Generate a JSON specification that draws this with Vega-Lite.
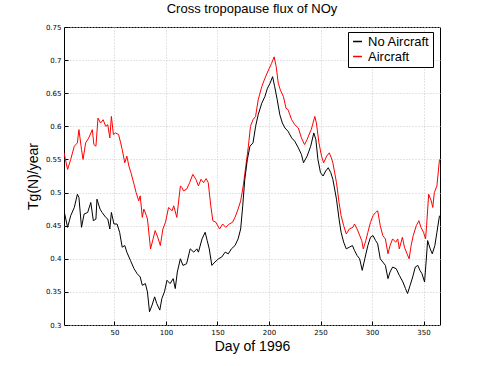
{
  "$schema": "https://vega.github.io/schema/vega-lite/v6.json",
  "autosize": {"type": "none"},
  "width": 376,
  "height": 298,
  "padding": {"left": 64, "top": 27, "right": 47, "bottom": 41},
  "background": "white",
  "title": {"text": "Cross tropopause flux of NOy", "fontSize": 13, "fontWeight": "normal", "font": "Liberation Sans", "color": "black", "offset": 7, "anchor": "middle"},
  "config": {
    "view": {"stroke": "black", "strokeWidth": 1},
    "axis": {"labelFont": "DejaVu Sans", "labelFontSize": 7, "labelColor": "black", "titleFont": "Liberation Sans", "titleFontSize": 14, "titleFontWeight": "normal", "titleColor": "black", "gridColor": "#c8c8c8", "gridDash": [1, 2], "gridWidth": 1, "domain": false, "tickColor": "black", "tickSize": -4, "labelPadding": 7}
  },
  "data": {"values": [
    {"d":1,"v":0.56,"s":"Aircraft"},{"d":4.5,"v":0.535,"s":"Aircraft"},{"d":7.5,"v":0.55,"s":"Aircraft"},{"d":11,"v":0.57,"s":"Aircraft"},{"d":14,"v":0.575,"s":"Aircraft"},{"d":15.5,"v":0.595,"s":"Aircraft"},{"d":18,"v":0.565,"s":"Aircraft"},{"d":19.5,"v":0.55,"s":"Aircraft"},{"d":22,"v":0.575,"s":"Aircraft"},{"d":25,"v":0.5825,"s":"Aircraft"},{"d":28.5,"v":0.595,"s":"Aircraft"},{"d":30,"v":0.5725,"s":"Aircraft"},{"d":32,"v":0.57,"s":"Aircraft"},{"d":34,"v":0.6125,"s":"Aircraft"},{"d":36.5,"v":0.605,"s":"Aircraft"},{"d":39,"v":0.61,"s":"Aircraft"},{"d":41.5,"v":0.6,"s":"Aircraft"},{"d":43.5,"v":0.6025,"s":"Aircraft"},{"d":45.5,"v":0.5825,"s":"Aircraft"},{"d":47,"v":0.615,"s":"Aircraft"},{"d":49,"v":0.5875,"s":"Aircraft"},{"d":51,"v":0.59,"s":"Aircraft"},{"d":54,"v":0.5875,"s":"Aircraft"},{"d":56,"v":0.575,"s":"Aircraft"},{"d":57.5,"v":0.565,"s":"Aircraft"},{"d":60,"v":0.545,"s":"Aircraft"},{"d":62,"v":0.555,"s":"Aircraft"},{"d":64,"v":0.54,"s":"Aircraft"},{"d":66,"v":0.53,"s":"Aircraft"},{"d":69,"v":0.5125,"s":"Aircraft"},{"d":71,"v":0.5,"s":"Aircraft"},{"d":73.5,"v":0.4875,"s":"Aircraft"},{"d":75,"v":0.495,"s":"Aircraft"},{"d":77,"v":0.4625,"s":"Aircraft"},{"d":78.5,"v":0.475,"s":"Aircraft"},{"d":81,"v":0.465,"s":"Aircraft"},{"d":82,"v":0.46,"s":"Aircraft"},{"d":85,"v":0.415,"s":"Aircraft"},{"d":87.5,"v":0.43,"s":"Aircraft"},{"d":89.5,"v":0.4425,"s":"Aircraft"},{"d":92,"v":0.4325,"s":"Aircraft"},{"d":94.5,"v":0.42,"s":"Aircraft"},{"d":97,"v":0.445,"s":"Aircraft"},{"d":99.5,"v":0.455,"s":"Aircraft"},{"d":102.5,"v":0.4775,"s":"Aircraft"},{"d":106,"v":0.4725,"s":"Aircraft"},{"d":107.5,"v":0.48,"s":"Aircraft"},{"d":110.5,"v":0.4625,"s":"Aircraft"},{"d":114,"v":0.51,"s":"Aircraft"},{"d":115.5,"v":0.5075,"s":"Aircraft"},{"d":117,"v":0.5025,"s":"Aircraft"},{"d":120,"v":0.505,"s":"Aircraft"},{"d":123,"v":0.515,"s":"Aircraft"},{"d":126,"v":0.5275,"s":"Aircraft"},{"d":129,"v":0.52,"s":"Aircraft"},{"d":131.5,"v":0.51,"s":"Aircraft"},{"d":134,"v":0.52,"s":"Aircraft"},{"d":136.5,"v":0.515,"s":"Aircraft"},{"d":139,"v":0.521,"s":"Aircraft"},{"d":141,"v":0.515,"s":"Aircraft"},{"d":143.5,"v":0.48,"s":"Aircraft"},{"d":145.5,"v":0.4575,"s":"Aircraft"},{"d":148.5,"v":0.455,"s":"Aircraft"},{"d":152,"v":0.445,"s":"Aircraft"},{"d":155,"v":0.4525,"s":"Aircraft"},{"d":158,"v":0.4475,"s":"Aircraft"},{"d":161.5,"v":0.4525,"s":"Aircraft"},{"d":164.5,"v":0.455,"s":"Aircraft"},{"d":167,"v":0.4625,"s":"Aircraft"},{"d":170,"v":0.475,"s":"Aircraft"},{"d":172.5,"v":0.4875,"s":"Aircraft"},{"d":175,"v":0.51,"s":"Aircraft"},{"d":177.5,"v":0.54,"s":"Aircraft"},{"d":180,"v":0.57,"s":"Aircraft"},{"d":182,"v":0.6,"s":"Aircraft"},{"d":184.5,"v":0.61,"s":"Aircraft"},{"d":187,"v":0.615,"s":"Aircraft"},{"d":189.5,"v":0.64,"s":"Aircraft"},{"d":193,"v":0.66,"s":"Aircraft"},{"d":196,"v":0.6725,"s":"Aircraft"},{"d":199.5,"v":0.685,"s":"Aircraft"},{"d":202.5,"v":0.695,"s":"Aircraft"},{"d":205,"v":0.705,"s":"Aircraft"},{"d":207,"v":0.69,"s":"Aircraft"},{"d":209,"v":0.665,"s":"Aircraft"},{"d":211,"v":0.655,"s":"Aircraft"},{"d":214,"v":0.645,"s":"Aircraft"},{"d":216.5,"v":0.6275,"s":"Aircraft"},{"d":218.5,"v":0.625,"s":"Aircraft"},{"d":222,"v":0.61,"s":"Aircraft"},{"d":225,"v":0.6025,"s":"Aircraft"},{"d":228.5,"v":0.5975,"s":"Aircraft"},{"d":231.5,"v":0.5825,"s":"Aircraft"},{"d":234.5,"v":0.5725,"s":"Aircraft"},{"d":237,"v":0.58,"s":"Aircraft"},{"d":239.5,"v":0.59,"s":"Aircraft"},{"d":241,"v":0.595,"s":"Aircraft"},{"d":244.5,"v":0.615,"s":"Aircraft"},{"d":246,"v":0.605,"s":"Aircraft"},{"d":248.5,"v":0.575,"s":"Aircraft"},{"d":251,"v":0.555,"s":"Aircraft"},{"d":253,"v":0.545,"s":"Aircraft"},{"d":256,"v":0.555,"s":"Aircraft"},{"d":258.5,"v":0.56,"s":"Aircraft"},{"d":260.5,"v":0.5525,"s":"Aircraft"},{"d":262,"v":0.545,"s":"Aircraft"},{"d":265.5,"v":0.515,"s":"Aircraft"},{"d":268,"v":0.485,"s":"Aircraft"},{"d":270,"v":0.465,"s":"Aircraft"},{"d":272.5,"v":0.45,"s":"Aircraft"},{"d":275,"v":0.4375,"s":"Aircraft"},{"d":278,"v":0.445,"s":"Aircraft"},{"d":281.5,"v":0.4475,"s":"Aircraft"},{"d":283,"v":0.4525,"s":"Aircraft"},{"d":285.5,"v":0.445,"s":"Aircraft"},{"d":287.5,"v":0.4375,"s":"Aircraft"},{"d":290,"v":0.4275,"s":"Aircraft"},{"d":291.5,"v":0.415,"s":"Aircraft"},{"d":294,"v":0.4275,"s":"Aircraft"},{"d":296,"v":0.44,"s":"Aircraft"},{"d":298.5,"v":0.455,"s":"Aircraft"},{"d":301,"v":0.465,"s":"Aircraft"},{"d":303.5,"v":0.47,"s":"Aircraft"},{"d":305.5,"v":0.4725,"s":"Aircraft"},{"d":308,"v":0.45,"s":"Aircraft"},{"d":310.5,"v":0.435,"s":"Aircraft"},{"d":313,"v":0.43,"s":"Aircraft"},{"d":315.5,"v":0.4075,"s":"Aircraft"},{"d":317.5,"v":0.42,"s":"Aircraft"},{"d":320,"v":0.43,"s":"Aircraft"},{"d":323,"v":0.425,"s":"Aircraft"},{"d":325,"v":0.43,"s":"Aircraft"},{"d":326.5,"v":0.415,"s":"Aircraft"},{"d":329.5,"v":0.4325,"s":"Aircraft"},{"d":331.5,"v":0.4175,"s":"Aircraft"},{"d":334,"v":0.4075,"s":"Aircraft"},{"d":336,"v":0.4,"s":"Aircraft"},{"d":338,"v":0.42,"s":"Aircraft"},{"d":340,"v":0.435,"s":"Aircraft"},{"d":343,"v":0.45,"s":"Aircraft"},{"d":345.5,"v":0.4575,"s":"Aircraft"},{"d":347.5,"v":0.4475,"s":"Aircraft"},{"d":350,"v":0.44,"s":"Aircraft"},{"d":352,"v":0.43,"s":"Aircraft"},{"d":353,"v":0.45,"s":"Aircraft"},{"d":355,"v":0.4975,"s":"Aircraft"},{"d":357.5,"v":0.4875,"s":"Aircraft"},{"d":359,"v":0.4775,"s":"Aircraft"},{"d":360.5,"v":0.5,"s":"Aircraft"},{"d":363,"v":0.51,"s":"Aircraft"},{"d":365.5,"v":0.55,"s":"Aircraft"},
    {"d":1,"v":0.4725,"s":"No Aircraft"},{"d":4.5,"v":0.4475,"s":"No Aircraft"},{"d":7.5,"v":0.465,"s":"No Aircraft"},{"d":11,"v":0.4775,"s":"No Aircraft"},{"d":14,"v":0.4975,"s":"No Aircraft"},{"d":15.5,"v":0.4925,"s":"No Aircraft"},{"d":18,"v":0.4475,"s":"No Aircraft"},{"d":20.5,"v":0.4675,"s":"No Aircraft"},{"d":24,"v":0.47,"s":"No Aircraft"},{"d":27,"v":0.485,"s":"No Aircraft"},{"d":29.5,"v":0.4575,"s":"No Aircraft"},{"d":32,"v":0.46,"s":"No Aircraft"},{"d":33,"v":0.49,"s":"No Aircraft"},{"d":36,"v":0.475,"s":"No Aircraft"},{"d":38,"v":0.47,"s":"No Aircraft"},{"d":41.5,"v":0.4625,"s":"No Aircraft"},{"d":43.5,"v":0.46,"s":"No Aircraft"},{"d":45.5,"v":0.445,"s":"No Aircraft"},{"d":47,"v":0.47,"s":"No Aircraft"},{"d":49.5,"v":0.4525,"s":"No Aircraft"},{"d":52.5,"v":0.4525,"s":"No Aircraft"},{"d":55,"v":0.44,"s":"No Aircraft"},{"d":57.5,"v":0.4175,"s":"No Aircraft"},{"d":60,"v":0.42,"s":"No Aircraft"},{"d":62,"v":0.41,"s":"No Aircraft"},{"d":65.5,"v":0.3975,"s":"No Aircraft"},{"d":69,"v":0.385,"s":"No Aircraft"},{"d":72,"v":0.3775,"s":"No Aircraft"},{"d":75,"v":0.3725,"s":"No Aircraft"},{"d":77,"v":0.36,"s":"No Aircraft"},{"d":80,"v":0.3625,"s":"No Aircraft"},{"d":82,"v":0.35,"s":"No Aircraft"},{"d":84,"v":0.32,"s":"No Aircraft"},{"d":86.5,"v":0.33,"s":"No Aircraft"},{"d":89,"v":0.3425,"s":"No Aircraft"},{"d":91,"v":0.3325,"s":"No Aircraft"},{"d":94,"v":0.3225,"s":"No Aircraft"},{"d":96,"v":0.34,"s":"No Aircraft"},{"d":98.5,"v":0.35,"s":"No Aircraft"},{"d":101,"v":0.3675,"s":"No Aircraft"},{"d":104,"v":0.3625,"s":"No Aircraft"},{"d":107,"v":0.37,"s":"No Aircraft"},{"d":109,"v":0.355,"s":"No Aircraft"},{"d":111,"v":0.38,"s":"No Aircraft"},{"d":114,"v":0.4,"s":"No Aircraft"},{"d":116.5,"v":0.39,"s":"No Aircraft"},{"d":120,"v":0.3925,"s":"No Aircraft"},{"d":123.5,"v":0.415,"s":"No Aircraft"},{"d":127,"v":0.41,"s":"No Aircraft"},{"d":130,"v":0.415,"s":"No Aircraft"},{"d":131.5,"v":0.41,"s":"No Aircraft"},{"d":135,"v":0.43,"s":"No Aircraft"},{"d":138,"v":0.44,"s":"No Aircraft"},{"d":140,"v":0.4275,"s":"No Aircraft"},{"d":142,"v":0.415,"s":"No Aircraft"},{"d":144.5,"v":0.39,"s":"No Aircraft"},{"d":147.5,"v":0.395,"s":"No Aircraft"},{"d":151,"v":0.4,"s":"No Aircraft"},{"d":154,"v":0.4025,"s":"No Aircraft"},{"d":157.5,"v":0.41,"s":"No Aircraft"},{"d":160.5,"v":0.4075,"s":"No Aircraft"},{"d":163.5,"v":0.415,"s":"No Aircraft"},{"d":167,"v":0.42,"s":"No Aircraft"},{"d":170,"v":0.43,"s":"No Aircraft"},{"d":172.5,"v":0.445,"s":"No Aircraft"},{"d":174.5,"v":0.48,"s":"No Aircraft"},{"d":176.5,"v":0.52,"s":"No Aircraft"},{"d":179,"v":0.55,"s":"No Aircraft"},{"d":181.5,"v":0.57,"s":"No Aircraft"},{"d":184.5,"v":0.575,"s":"No Aircraft"},{"d":187,"v":0.6,"s":"No Aircraft"},{"d":189.5,"v":0.6175,"s":"No Aircraft"},{"d":193,"v":0.635,"s":"No Aircraft"},{"d":196,"v":0.645,"s":"No Aircraft"},{"d":198.5,"v":0.6575,"s":"No Aircraft"},{"d":201,"v":0.665,"s":"No Aircraft"},{"d":203.5,"v":0.675,"s":"No Aircraft"},{"d":205.5,"v":0.66,"s":"No Aircraft"},{"d":208,"v":0.64,"s":"No Aircraft"},{"d":210.5,"v":0.6175,"s":"No Aircraft"},{"d":213,"v":0.605,"s":"No Aircraft"},{"d":215.5,"v":0.5975,"s":"No Aircraft"},{"d":218.5,"v":0.5925,"s":"No Aircraft"},{"d":222,"v":0.5825,"s":"No Aircraft"},{"d":225,"v":0.5775,"s":"No Aircraft"},{"d":228.5,"v":0.5675,"s":"No Aircraft"},{"d":231.5,"v":0.5575,"s":"No Aircraft"},{"d":233.5,"v":0.545,"s":"No Aircraft"},{"d":237,"v":0.555,"s":"No Aircraft"},{"d":240.5,"v":0.57,"s":"No Aircraft"},{"d":243.5,"v":0.59,"s":"No Aircraft"},{"d":245.5,"v":0.58,"s":"No Aircraft"},{"d":247.5,"v":0.55,"s":"No Aircraft"},{"d":250,"v":0.53,"s":"No Aircraft"},{"d":252.5,"v":0.525,"s":"No Aircraft"},{"d":255,"v":0.5325,"s":"No Aircraft"},{"d":257.5,"v":0.5375,"s":"No Aircraft"},{"d":260,"v":0.53,"s":"No Aircraft"},{"d":262,"v":0.52,"s":"No Aircraft"},{"d":265.5,"v":0.49,"s":"No Aircraft"},{"d":268,"v":0.46,"s":"No Aircraft"},{"d":270,"v":0.44,"s":"No Aircraft"},{"d":272.5,"v":0.425,"s":"No Aircraft"},{"d":275,"v":0.415,"s":"No Aircraft"},{"d":278,"v":0.4175,"s":"No Aircraft"},{"d":281,"v":0.42,"s":"No Aircraft"},{"d":283,"v":0.4125,"s":"No Aircraft"},{"d":285.5,"v":0.405,"s":"No Aircraft"},{"d":288,"v":0.4,"s":"No Aircraft"},{"d":290.5,"v":0.3825,"s":"No Aircraft"},{"d":293,"v":0.4,"s":"No Aircraft"},{"d":296,"v":0.42,"s":"No Aircraft"},{"d":298.5,"v":0.4325,"s":"No Aircraft"},{"d":301,"v":0.435,"s":"No Aircraft"},{"d":303.5,"v":0.4275,"s":"No Aircraft"},{"d":305.5,"v":0.4225,"s":"No Aircraft"},{"d":308,"v":0.4,"s":"No Aircraft"},{"d":310.5,"v":0.395,"s":"No Aircraft"},{"d":313,"v":0.39,"s":"No Aircraft"},{"d":315.5,"v":0.37,"s":"No Aircraft"},{"d":317.5,"v":0.38,"s":"No Aircraft"},{"d":320,"v":0.3875,"s":"No Aircraft"},{"d":323.5,"v":0.385,"s":"No Aircraft"},{"d":326.5,"v":0.375,"s":"No Aircraft"},{"d":330,"v":0.365,"s":"No Aircraft"},{"d":332.5,"v":0.355,"s":"No Aircraft"},{"d":334.5,"v":0.3475,"s":"No Aircraft"},{"d":337,"v":0.36,"s":"No Aircraft"},{"d":339.5,"v":0.3725,"s":"No Aircraft"},{"d":342,"v":0.3875,"s":"No Aircraft"},{"d":344.5,"v":0.39,"s":"No Aircraft"},{"d":346.5,"v":0.3825,"s":"No Aircraft"},{"d":348.5,"v":0.3775,"s":"No Aircraft"},{"d":351,"v":0.365,"s":"No Aircraft"},{"d":352.5,"v":0.395,"s":"No Aircraft"},{"d":354,"v":0.4275,"s":"No Aircraft"},{"d":356.5,"v":0.415,"s":"No Aircraft"},{"d":358.5,"v":0.4075,"s":"No Aircraft"},{"d":361,"v":0.42,"s":"No Aircraft"},{"d":363,"v":0.44,"s":"No Aircraft"},{"d":365.5,"v":0.465,"s":"No Aircraft"}
  ]},
  "mark": {"type": "line", "strokeWidth": 1, "clip": true},
  "encoding": {
    "x": {"field": "d", "type": "quantitative", "title": "Day of 1996",
      "scale": {"domain": [1, 366], "nice": false, "zero": false},
      "axis": {"values": [50, 100, 150, 200, 250, 300, 350], "titlePadding": 4}},
    "y": {"field": "v", "type": "quantitative", "title": "Tg(N)/year",
      "scale": {"domain": [0.3, 0.75], "nice": false, "zero": false},
      "axis": {"values": [0.3, 0.35, 0.4, 0.45, 0.5, 0.55, 0.6, 0.65, 0.7, 0.75], "format": "~g", "titlePadding": 5}},
    "color": {"field": "s", "type": "nominal",
      "scale": {"domain": ["No Aircraft", "Aircraft"], "range": ["#000000", "#ff0000"]},
      "legend": {"title": null, "orient": "none", "legendX": 284, "legendY": 5, "strokeColor": "black", "fillColor": "white", "padding": 3, "labelFont": "Liberation Sans", "labelFontSize": 13, "labelColor": "black", "symbolType": "stroke", "symbolSize": 80, "symbolStrokeWidth": 1.5, "rowPadding": 1, "labelOffset": 4}}
  }
}
